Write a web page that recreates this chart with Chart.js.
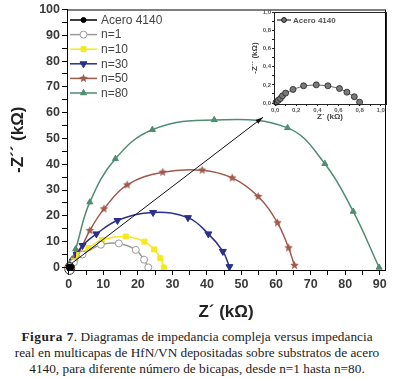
<!DOCTYPE html>
<html>
<head>
<meta charset="utf-8">
<script src="https://cdn.jsdelivr.net/npm/chart.js@4.4.0/dist/chart.umd.min.js"></script>
<style>
    body { margin: 0; background: #fff; width: 394px; height: 378px; overflow: hidden; position: relative; }
    #main { position: absolute; left: 0; top: 0; }
    #inset { position: absolute; left: 245px; top: 4px; }
    #caption { position: absolute; left: 0; top: 329px; width: 394px; font-family: "Liberation Serif", "Times New Roman", serif;
        font-size: 13.3px; line-height: 16px; color: #222; text-align: center; }
    #caption b { letter-spacing: 0.5px; }
</style>
</head>
<body>
<canvas id="main" width="394" height="325"></canvas>
<canvas id="inset" width="149" height="122"></canvas>
<div id="caption">
    <div><b>Figura 7</b>. Diagramas de impedancia compleja versus impedancia</div>
    <div>real en multicapas de HfN/VN depositadas sobre substratos de acero</div>
    <div>4140, para diferente número de bicapas, desde n=1 hasta n=80.</div>
</div>
<script>
// Z' and -Z'' values in kOhm
const aceroX = [0.01, 0.03, 0.05, 0.07, 0.10, 0.17, 0.27, 0.39, 0.50, 0.61, 0.68, 0.75, 0.80];
const aceroY = [0.01, 0.03, 0.05, 0.08, 0.11, 0.15, 0.19, 0.20, 0.19, 0.16, 0.12, 0.07, 0.01];

const n1X = [0.3, 1.5, 4.0, 9.3, 14.5, 19.4, 21.8, 23.0];
const n1Y = [0.4, 2.0, 5.0, 8.8, 9.3, 6.8, 3.0, 0.0];

const n10X = [0.3, 1.5, 3.0, 5.7, 9.7, 16.5, 21.9, 24.7, 26.5, 27.5];
const n10Y = [0.5, 2.5, 4.8, 7.5, 10.7, 12.0, 10.0, 7.0, 3.6, 0.0];

const n30X = [0.3, 1.2, 2.3, 4.0, 8.0, 14.1, 24.4, 34.5, 40.4, 44.6, 46.5];
const n30Y = [0.5, 2.5, 5.0, 8.5, 13.0, 18.2, 21.3, 19.3, 13.0, 6.2, 0.3];

const n50X = [0.3, 1.0, 2.0, 3.0, 6.1, 10.2, 16.9, 27.2, 38.6, 47.3, 54.8, 60.4, 63.6, 65.3];
const n50Y = [0.5, 2.0, 4.0, 5.9, 14.3, 22.7, 32.0, 36.9, 37.7, 34.7, 27.5, 17.3, 7.6, 0.8];

const n80X = [0.3, 0.9, 2.0, 6.1, 13.5, 24.2, 42.1, 63.3, 74.1, 82.3, 89.8];
const n80Y = [0.8, 3.0, 7.1, 25.3, 42.1, 53.4, 57.2, 54.1, 40.2, 21.7, 0.0];

const seriesLabels = ['Acero 4140', 'n=1', 'n=10', 'n=30', 'n=50', 'n=80'];

const xTicks = [0, 5, 10, 15, 20, 25, 30, 35, 40, 45, 50, 55, 60, 65, 70, 75, 80, 85, 90];
const yTicks = [0, 5, 10, 15, 20, 25, 30, 35, 40, 45, 50, 55, 60, 65, 70, 75, 80, 85, 90, 95, 100];
const insetTicks = [0, 0.1, 0.2, 0.3, 0.4, 0.5, 0.6, 0.7, 0.8, 0.9, 1.0];

// arrow from the zoomed origin to the inset (data units of the main chart)
const arrowFrom = [0.8, 1.5];
const arrowTo = [56.2, 58.2];

const sans = '"Liberation Sans", Arial, sans-serif';

function pts(xs, ys) {
    return xs.map((x, i) => ({ x: x, y: ys[i] }));
}

function starImage(color, r) {
    const c = document.createElement('canvas');
    const s = Math.ceil(r * 2) + 2;
    c.width = s;
    c.height = s;
    const g = c.getContext('2d');
    g.beginPath();
    for (let i = 0; i < 10; i++) {
        const rad = i % 2 === 0 ? r : r * 0.45;
        const a = -Math.PI / 2 + i * Math.PI / 5;
        g.lineTo(s / 2 + rad * Math.cos(a), s / 2 + rad * Math.sin(a));
    }
    g.closePath();
    g.fillStyle = color;
    g.fill();
    return c;
}

const brown = '#a0594a';
const green = '#4f8c72';
const navy = '#2a2f8c';
const yellow = '#f5e81c';
const grey = '#9a9a9a';

const datasets = [
    { data: pts(aceroX, aceroY), borderColor: '#000', backgroundColor: '#000', pointStyle: 'circle', pointRadius: 2.5 },
    { data: pts(n1X, n1Y), borderColor: grey, backgroundColor: '#fff', pointBorderColor: grey, pointStyle: 'circle', pointRadius: 3.5 },
    { data: pts(n10X, n10Y), borderColor: yellow, backgroundColor: yellow, pointStyle: 'rect', pointRadius: 3.5 },
    { data: pts(n30X, n30Y), borderColor: navy, backgroundColor: navy, pointStyle: 'triangle', rotation: 180, pointRadius: 4 },
    { data: pts(n50X, n50Y), borderColor: brown, backgroundColor: brown, pointStyle: starImage(brown, 4.5), pointRadius: 4 },
    { data: pts(n80X, n80Y), borderColor: green, backgroundColor: green, pointStyle: 'triangle', pointRadius: 3.5 }
];
datasets.forEach((d, i) => {
    d.label = seriesLabels[i];
    d.showLine = true;
    d.borderWidth = 1.5;
    d.tension = 0.4;
    d.pointBorderWidth = 1;
    d.clip = 6;
});

// frame, legend, origin ellipse and arrow
const decorPlugin = {
    id: 'decor',
    afterDraw(chart) {
        const ctx = chart.ctx;
        const a = chart.chartArea;
        const xs = chart.scales.x, ys = chart.scales.y;
        ctx.save();
        ctx.strokeStyle = '#000';
        ctx.lineWidth = 1;
        ctx.strokeRect(a.left + 0.5, a.top + 0.5, a.right - a.left, a.bottom - a.top);

        // ellipse round the origin
        const ox = xs.getPixelForValue(0), oy = ys.getPixelForValue(0);
        ctx.beginPath();
        ctx.ellipse(ox + 1, oy + 1, 5, 6, 0, 0, Math.PI * 2);
        ctx.strokeStyle = '#333';
        ctx.stroke();

        // arrow
        const x1 = xs.getPixelForValue(arrowFrom[0]), y1 = ys.getPixelForValue(arrowFrom[1]);
        const x2 = xs.getPixelForValue(arrowTo[0]), y2 = ys.getPixelForValue(arrowTo[1]);
        const ang = Math.atan2(y2 - y1, x2 - x1);
        ctx.beginPath();
        ctx.moveTo(x1, y1);
        ctx.lineTo(x2, y2);
        ctx.strokeStyle = '#111';
        ctx.lineWidth = 1;
        ctx.stroke();
        ctx.beginPath();
        ctx.moveTo(x2, y2);
        ctx.lineTo(x2 - 8 * Math.cos(ang - 0.3), y2 - 8 * Math.sin(ang - 0.3));
        ctx.lineTo(x2 - 8 * Math.cos(ang + 0.3), y2 - 8 * Math.sin(ang + 0.3));
        ctx.closePath();
        ctx.fillStyle = '#111';
        ctx.fill();

        // legend
        ctx.font = '12px ' + sans;
        ctx.textBaseline = 'middle';
        chart.data.datasets.forEach((d, i) => {
            const y = 20 + i * 14.6;
            ctx.beginPath();
            ctx.moveTo(70, y);
            ctx.lineTo(97, y);
            ctx.strokeStyle = d.borderColor;
            ctx.lineWidth = 1.5;
            ctx.stroke();
            ctx.fillStyle = d.backgroundColor;
            ctx.strokeStyle = d.pointBorderColor || d.borderColor;
            ctx.lineWidth = 1;
            Chart.helpers.drawPoint(ctx, {
                pointStyle: d.pointStyle, rotation: d.rotation || 0,
                radius: d.pointRadius, borderWidth: 1
            }, 83.5, y);
            ctx.fillStyle = '#444';
            ctx.fillText(d.label, 101, y + 0.5);
        });
        ctx.restore();
    }
};

const tickFont = { family: sans, size: 12.5, weight: 'bold' };
const titleFont = { family: sans, size: 17, weight: 'bold' };

new Chart(document.getElementById('main'), {
    type: 'scatter',
    data: { datasets: datasets },
    options: {
        responsive: false,
        animation: false,
        layout: { padding: { left: 0, top: 9, right: 9, bottom: 0 } },
        plugins: { legend: { display: false }, tooltip: { enabled: false } },
        scales: {
            x: {
                type: 'linear', min: -0.5, max: 91.5,
                afterBuildTicks: s => { s.ticks = xTicks.map(v => ({ value: v })); },
                afterFit: s => { s.height = 55; },
                ticks: { callback: v => v % 10 === 0 ? v : '', font: tickFont, color: '#3a3a3a', padding: 2, maxRotation: 0, autoSkip: false },
                grid: { drawOnChartArea: false, tickLength: 5, color: '#000' },
                border: { color: '#000', width: 1 },
                title: { display: true, text: 'Z´ (kΩ)', font: titleFont, color: '#222', padding: { top: 0, bottom: 2 } }
            },
            y: {
                type: 'linear', min: -1, max: 100,
                afterBuildTicks: s => { s.ticks = yTicks.map(v => ({ value: v })); },
                afterFit: s => { s.width = 67; },
                ticks: { callback: v => v % 10 === 0 ? v : '', font: tickFont, color: '#3a3a3a', padding: 2, autoSkip: false },
                grid: { drawOnChartArea: false, tickLength: 5, color: '#000' },
                border: { color: '#000', width: 1 },
                title: { display: true, text: '-Z´´ (kΩ)', font: titleFont, color: '#222', padding: { top: 8, bottom: 0 } }
            }
        }
    },
    plugins: [decorPlugin]
});

// inset: bare steel only
const insetPlugin = {
    id: 'insetDecor',
    afterDraw(chart) {
        const ctx = chart.ctx;
        const a = chart.chartArea;
        ctx.save();
        ctx.strokeStyle = '#222';
        ctx.lineWidth = 1;
        ctx.strokeRect(a.left + 0.5, a.top + 0.5, a.right - a.left, a.bottom - a.top);
        const y = 16;
        ctx.beginPath();
        ctx.moveTo(a.left + 3, y);
        ctx.lineTo(a.left + 17, y);
        ctx.strokeStyle = '#000';
        ctx.stroke();
        ctx.fillStyle = '#777';
        ctx.strokeStyle = '#111';
        Chart.helpers.drawPoint(ctx, { pointStyle: 'circle', radius: 2.4, borderWidth: 1 }, a.left + 10, y);
        ctx.font = 'bold 8px ' + sans;
        ctx.textBaseline = 'middle';
        ctx.fillStyle = '#555';
        ctx.fillText(seriesLabels[0], a.left + 19, y + 0.5);
        ctx.restore();
    }
};

const insetTickFont = { family: sans, size: 6, weight: 'bold' };
const insetTitleFont = { family: sans, size: 8, weight: 'bold' };
const insetLabel = v => Math.round(v * 10) % 2 === 0 ? v.toFixed(1).replace('.', ',') : '';

new Chart(document.getElementById('inset'), {
    type: 'scatter',
    data: {
        datasets: [{
            data: pts(aceroX, aceroY), showLine: true, borderColor: '#444', borderWidth: 0.8,
            backgroundColor: '#7a7a7a', pointBorderColor: '#222', pointBorderWidth: 0.8, pointRadius: 3, clip: 4
        }]
    },
    options: {
        responsive: false,
        animation: false,
        layout: { padding: { left: 0, top: 8, right: 8, bottom: 0 } },
        plugins: { legend: { display: false }, tooltip: { enabled: false } },
        scales: {
            x: {
                type: 'linear', min: -0.01, max: 1.05,
                afterBuildTicks: s => { s.ticks = insetTicks.map(v => ({ value: v })); },
                afterFit: s => { s.height = 22; },
                ticks: { callback: insetLabel, font: insetTickFont, color: '#555', padding: 1, maxRotation: 0, autoSkip: false },
                grid: { drawOnChartArea: false, tickLength: 2, color: '#222' },
                border: { color: '#222', width: 1 },
                title: { display: true, text: 'Z´ (kΩ)', font: insetTitleFont, color: '#444', padding: { top: 0, bottom: 4 } }
            },
            y: {
                type: 'linear', min: -0.01, max: 1.0,
                afterBuildTicks: s => { s.ticks = insetTicks.map(v => ({ value: v })); },
                afterFit: s => { s.width = 29; },
                ticks: { callback: insetLabel, font: insetTickFont, color: '#555', padding: 1, autoSkip: false },
                grid: { drawOnChartArea: false, tickLength: 2, color: '#222' },
                border: { color: '#222', width: 1 },
                title: { display: true, text: '-Z´´ (kΩ)', font: insetTitleFont, color: '#444', padding: { top: 5, bottom: 0 } }
            }
        }
    },
    plugins: [insetPlugin]
});
</script>
</body>
</html>
